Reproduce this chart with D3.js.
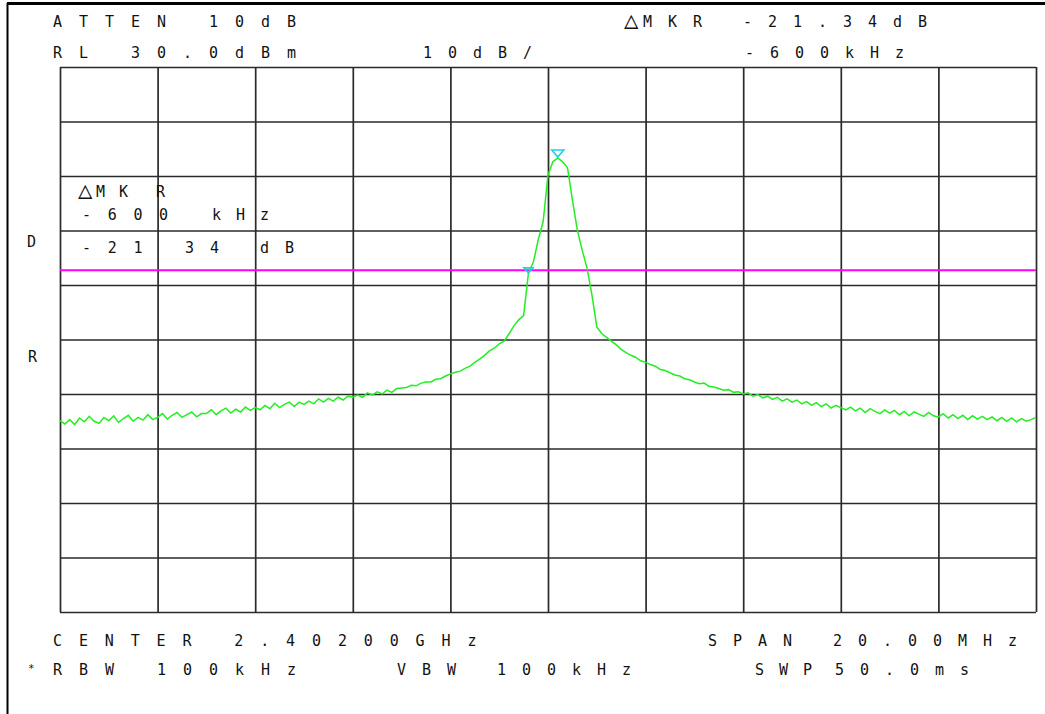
<!DOCTYPE html>
<html>
<head>
<meta charset="utf-8">
<script src="https://cdn.jsdelivr.net/npm/d3@7"></script>
<style>
  html, body { margin: 0; padding: 0; background: #fff; }
  .lbl { font-family: "DejaVu Sans Mono", monospace; font-size: 15px; fill: #111; }
</style>
</head>
<body>
<svg id="chart"></svg>
<script>
// sweep: 2.392 - 2.412 GHz, 201 points (MHz)
const startMHz = 2392;
const stepMHz = 0.1;

// trace levels in dBm
const levels = [
  -34.9, -35.5, -34.7, -35.6, -34.4, -35.1, -34.1, -35.0, -35.4, -34.3,
  -34.9, -34.0, -35.2, -34.5, -33.9, -35.0, -34.3, -34.8, -33.8, -34.7,
  -34.3, -33.6, -34.6, -33.9, -33.4, -34.3, -33.8, -33.3, -34.2, -33.6,
  -33.6, -32.9, -33.8, -33.1, -32.6, -33.5, -32.8, -33.3, -32.4, -33.0,
  -32.5, -32.9, -32.1, -32.7, -31.7, -32.5, -31.9, -31.5, -32.3, -31.5,
  -31.9, -31.3, -31.8, -30.9, -31.5, -30.8, -31.3, -30.6, -31.1, -30.4,
  -30.6, -30.2, -30.6, -29.8, -30.2, -29.6, -30.0, -29.3, -29.7, -29.0,
  -28.9, -28.8, -28.4, -28.5, -28.0, -27.8, -27.8, -27.3, -27.2, -26.7,
  -26.3, -26.0, -25.8, -25.3, -24.9, -24.2, -23.6, -22.9, -22.1, -21.6,
  -20.8, -20.3, -19.0, -17.5, -16.4,
  -15.6, -7.8, -5.8, -1.7, 1.6, 10.2, 12.6, 13.3, 12.6, 11.5,
  5.6, 0.1, -3.6, -6.9, -11.8, -17.7,
  -18.9, -19.6, -20.3, -21.0, -21.8, -22.4, -22.9, -23.3, -23.9,
  -24.2, -24.6, -24.9, -25.5, -25.7, -26.1, -26.5, -26.7, -27.2, -27.4,
  -27.8, -28.1, -28.0, -28.6, -28.7, -29.0, -29.3, -29.2, -29.7, -29.6,
  -30.0, -29.8, -30.4, -30.1, -30.7, -30.4, -31.0, -30.6, -31.3, -30.9,
  -31.5, -31.1, -31.8, -31.4, -32.1, -31.6, -32.3, -31.8, -32.6, -32.1,
  -32.5, -32.9, -32.4, -33.1, -32.6, -33.4, -32.7, -33.2, -33.6, -32.9,
  -33.5, -33.0, -33.8, -33.2, -34.0, -33.3, -33.7, -34.1, -33.4, -34.0,
  -34.2, -33.6, -34.4, -33.8, -34.5, -33.9, -34.7, -34.0, -34.6, -34.1,
  -34.7, -34.2, -34.9, -34.3, -35.0, -34.4, -35.1, -34.5, -35.0, -34.7, -34.3
];
const freqs = levels.map((d, i) => startMHz + i * stepMHz);

// markers: peak and delta marker at -600 kHz
const markerFreqs = [2402.2, 2401.6];
const markerLevels = [13.3, -8.0];
const displayLine = -7.3; // dBm

const xTicks = d3.range(2392, 2412.01, 2);
const yTicks = d3.range(-70, 30.01, 10);

const W = 1045, H = 714;
const margin = { top: 67, right: 9, bottom: 102, left: 60 };

const svg = d3.select("#chart").attr("width", W).attr("height", H);

const x = d3.scaleLinear().domain([2392, 2412]).range([margin.left, W - margin.right]);
const y = d3.scaleLinear().domain([-70, 30]).range([H - margin.bottom, margin.top]);

// outer frame (top + left edge of the screen capture)
svg.append("line").attr("x1", 7).attr("x2", W).attr("y1", 3.5).attr("y2", 3.5)
  .attr("stroke", "#000").attr("stroke-width", 3);
svg.append("line").attr("x1", 7.5).attr("x2", 7.5).attr("y1", 3).attr("y2", H)
  .attr("stroke", "#000").attr("stroke-width", 2);

// graticule
const gridX = svg.append("g")
  .attr("transform", `translate(0,${y(-70)})`)
  .call(d3.axisBottom(x).tickValues(xTicks).tickSize(-(y(-70) - y(30))).tickFormat(""));
const gridY = svg.append("g")
  .attr("transform", `translate(${x(2392)},0)`)
  .call(d3.axisLeft(y).tickValues(yTicks).tickSize(-(x(2412) - x(2392))).tickFormat(""));
[gridX, gridY].forEach(g => {
  g.select(".domain").remove();
  g.selectAll(".tick line").attr("stroke", "#2a2a2a").attr("stroke-width", 1.7);
});

// text helper: fixed character pitch like the analyser screen
function label(str, x0, y0, pitch, size) {
  svg.append("text")
    .attr("class", "lbl")
    .attr("x", Array.from(str).map((c, i) => x0 + i * pitch).join(" "))
    .attr("y", y0)
    .style("font-size", (size || 15) + "px")
    .text(str);
}

label("ATTEN 10dB", 53, 27, 26);
label("RL 30.0dBm", 53, 58, 26);
label("10dB/", 423, 58, 25);
label("\u25B3", 624, 28, 25, 24);
label("MKR -21.34dB", 643, 27, 25);
label("-600kHz", 745, 58, 25);

label("D", 27, 247, 25);
label("R", 28, 362, 25);

// marker readout inside the graticule
label("\u25B3", 78, 198, 25, 24);
label("M", 96, 197, 25);
label("K", 119, 197, 25);
label("R", 156, 197, 25);
label("-600", 82, 220, 25.7);
label("kHz", 212, 220, 24);
label("-21", 82, 253, 25.7);
label("34", 185, 253, 25);
label("dB", 260, 253, 25);

label("CENTER 2.40200GHz", 53, 646, 25.9);
label("SPAN 20.00MHz", 708, 646, 25);
label("*", 28, 672, 10, 11);
label("RBW 100kHz", 53, 675, 26);
label("VBW 100kHz", 397, 675, 25);
label("SWP", 755, 675, 24);
label("50.0ms", 835, 675, 25);

// display line
svg.append("line")
  .attr("x1", x(2392)).attr("x2", x(2412))
  .attr("y1", y(displayLine)).attr("y2", y(displayLine))
  .attr("stroke", "#ff00ff").attr("stroke-width", 2);

// trace
const line = d3.line().x((d, i) => x(freqs[i])).y(d => y(d));
svg.append("path")
  .datum(levels)
  .attr("fill", "none")
  .attr("stroke", "#22ee22")
  .attr("stroke-width", 1.5)
  .attr("d", line);

// markers (inverted triangles)
const tri = [[-6, -7], [6, -7], [0, 0]];
svg.selectAll(".mkr")
  .data(markerFreqs)
  .enter()
  .append("path")
  .attr("class", "mkr")
  .attr("transform", (d, i) => `translate(${x(d)},${y(markerLevels[i]) - 1})`)
  .attr("d", (d, i) => {
    const s = i === 0 ? 1 : 0.75;
    return "M" + tri.map(p => [p[0] * s, p[1] * s].join(",")).join("L") + "Z";
  })
  .attr("fill", "none")
  .attr("stroke", "#22ccee")
  .attr("stroke-width", 1.6);
</script>
</body>
</html>
